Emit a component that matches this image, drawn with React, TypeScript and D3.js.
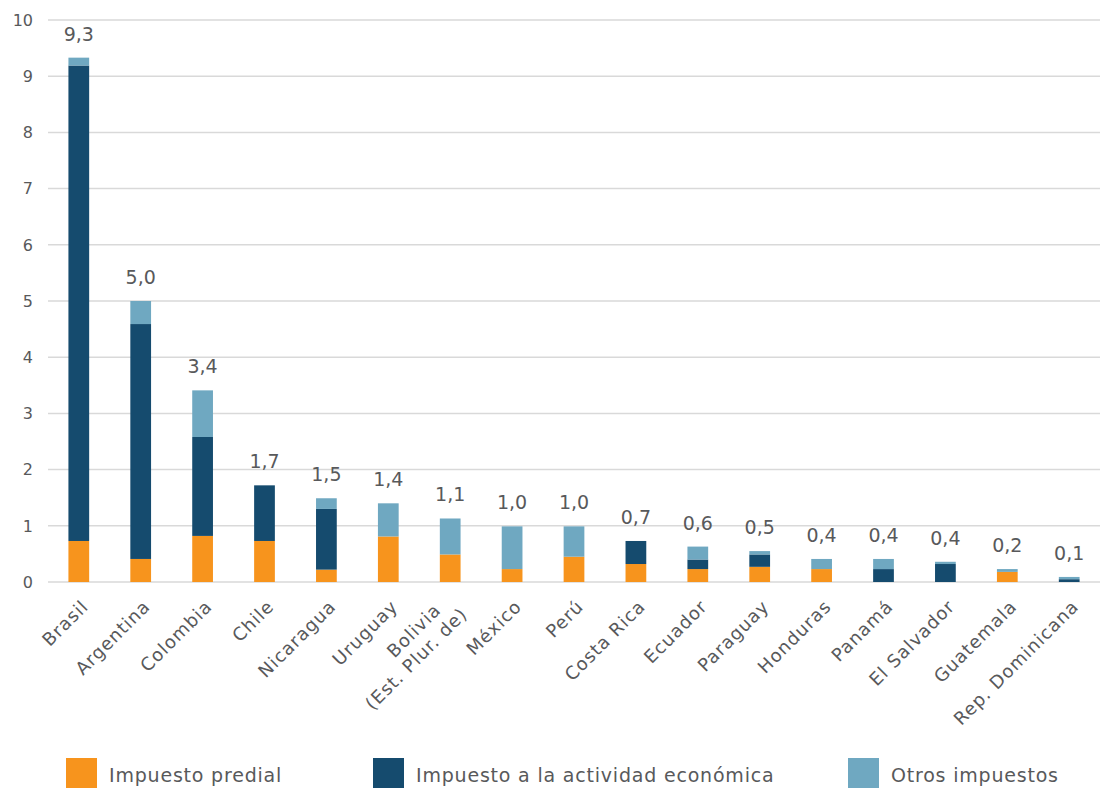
import React from "react";
import * as d3 from "d3";

const categories = [
  "Brasil", "Argentina", "Colombia", "Chile", "Nicaragua", "Uruguay",
  "Bolivia\n(Est. Plur. de)", "México", "Perú", "Costa Rica", "Ecuador",
  "Paraguay", "Honduras", "Panamá", "El Salvador", "Guatemala", "Rep. Dominicana",
];
const predial = [0.73, 0.41, 0.82, 0.73, 0.22, 0.81, 0.49, 0.23, 0.45, 0.32, 0.23, 0.27, 0.23, 0, 0, 0.18, 0];
const actividad = [8.46, 4.18, 1.76, 0.99, 1.08, 0, 0, 0, 0, 0.41, 0.17, 0.22, 0, 0.23, 0.32, 0, 0.05];
const otros = [0.14, 0.41, 0.83, 0, 0.19, 0.59, 0.64, 0.76, 0.54, 0, 0.23, 0.06, 0.18, 0.18, 0.04, 0.05, 0.04];
const totalLabels = ["9,3", "5,0", "3,4", "1,7", "1,5", "1,4", "1,1", "1,0", "1,0", "0,7", "0,6", "0,5", "0,4", "0,4", "0,4", "0,2", "0,1"];
const yTicks = [0, 1, 2, 3, 4, 5, 6, 7, 8, 9, 10];
const seriesNames = ["Impuesto predial", "Impuesto a la actividad económica", "Otros impuestos"];
const colors = ["#F7941D", "#154B6E", "#6FA8C1"];

const FONT = "'DejaVu Sans', 'Noto Sans', sans-serif";
const TEXT = "#58595B";

export default function App() {
  const W = 1108, H = 789;
  const x = d3.scaleBand<number>().domain(d3.range(categories.length)).range([48, 1100]).paddingInner(0.665).paddingOuter(0.33);
  const y = d3.scaleLinear().domain([0, 10]).range([582, 20]);

  const rows = categories.map((c, i) => ({ i, p: predial[i], a: actividad[i], o: otros[i] }));
  const stack = d3.stack<any>().keys(["p", "a", "o"])(rows);

  const legendX = [66, 373, 848];

  return (
    <svg width={W} height={H} style={{ position: "absolute", left: 0, top: 0, background: "#fff" }} fontFamily={FONT}>
      {yTicks.map((t) => (
        <g key={t}>
          <line x1={48} x2={1100} y1={y(t)} y2={y(t)} stroke="#D9D9D9" strokeWidth={1.5} />
          <text x={33} y={y(t)} dy="0.36em" textAnchor="end" fontSize={16} fill={TEXT}>{t}</text>
        </g>
      ))}
      {stack.map((s, si) => (
        <g key={si} fill={colors[si]}>
          {s.map((d, i) => {
            const h = y(d[0]) - y(d[1]);
            if (h <= 0) return null;
            return <rect key={i} x={x(i)} y={y(d[1])} width={x.bandwidth()} height={h} />;
          })}
        </g>
      ))}
      {rows.map((r, i) => {
        const tot = r.p + r.a + r.o;
        return (
          <text key={i} x={(x(i) as number) + x.bandwidth() / 2} y={y(tot) - 17} textAnchor="middle" fontSize={19} fill={TEXT}>
            {totalLabels[i]}
          </text>
        );
      })}
      {categories.map((c, i) => {
        const cx = (x(i) as number) + x.bandwidth() / 2;
        const lines = c.split("\n");
        return (
          <text key={i} transform={`translate(${cx + 3},${600}) rotate(-45)`} textAnchor="end" fontSize={18} letterSpacing={1} fill={TEXT}>
            {lines.map((l, li) => (
              <tspan key={li} x={lines.length > 1 && li === 0 ? -16 : 0} dy={li === 0 ? (lines.length > 1 ? "0" : "0.6em") : "1.2em"}>{l}</tspan>
            ))}
          </text>
        );
      })}
      {seriesNames.map((n, i) => (
        <g key={n}>
          <rect x={legendX[i]} y={758} width={31} height={30} fill={colors[i]} />
          <text x={legendX[i] + 43} y={781.5} fontSize={19} letterSpacing={0.8} fill={TEXT}>{n}</text>
        </g>
      ))}
    </svg>
  );
}
